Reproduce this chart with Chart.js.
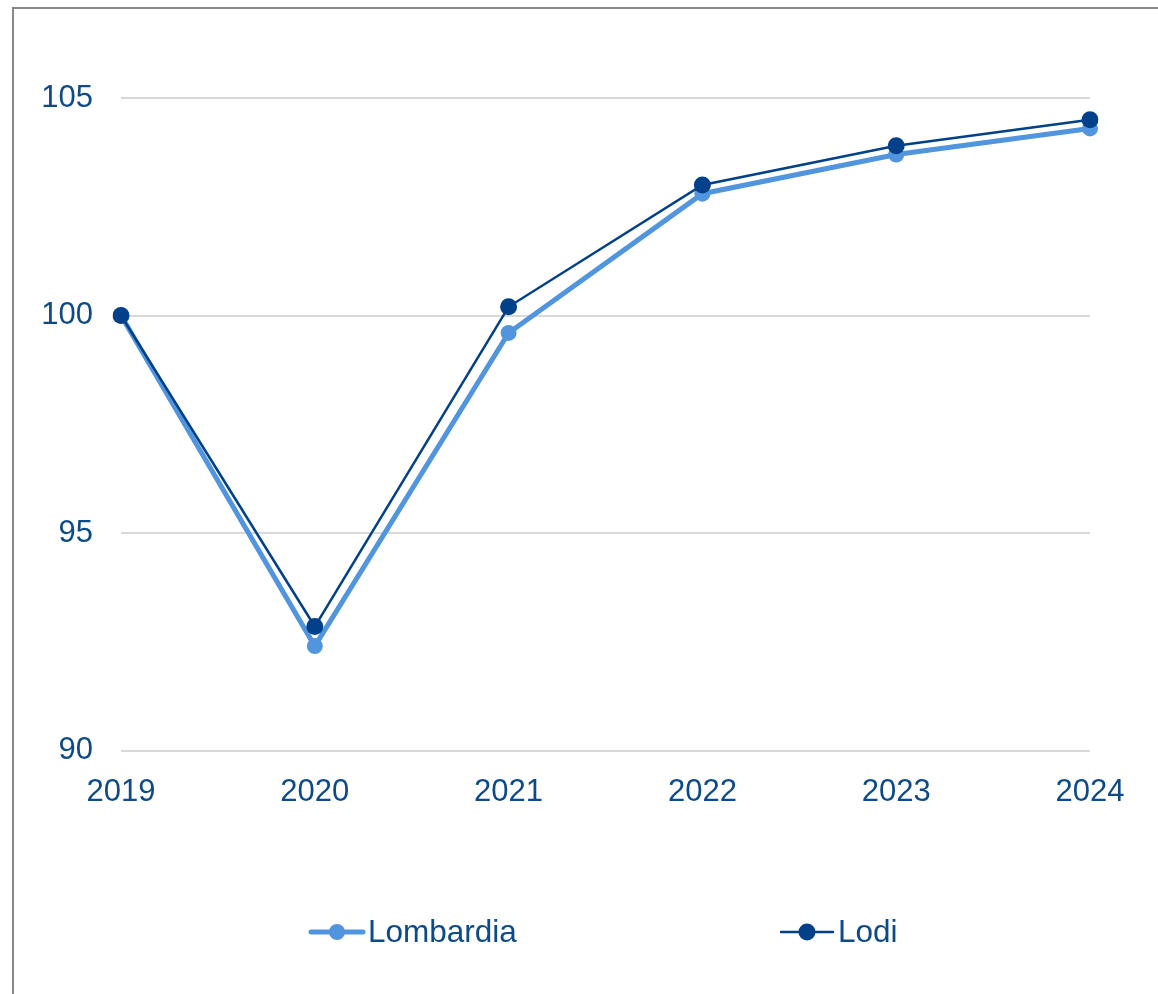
<!DOCTYPE html>
<html><head><meta charset="utf-8">
<script src="https://cdn.jsdelivr.net/npm/chart.js@4.4.1/dist/chart.umd.min.js"></script>
<style>
html,body{margin:0;padding:0;background:#fff;overflow:hidden;width:1158px;height:994px;}
#frame{position:absolute;left:12px;top:7px;width:1300px;height:1100px;border:2px solid #888888;box-sizing:border-box;}
#wrap{position:absolute;left:0;top:0;width:1158px;height:994px;}
</style></head><body>
<div id="frame"></div>
<div id="wrap"><canvas id="c" width="1158" height="994"></canvas></div>
<script>
const categories = ['2019', '2020', '2021', '2022', '2023', '2024'];
const lombardia = [100, 92.4, 99.6, 102.8, 103.7, 104.3];
const lodi = [100, 92.85, 100.2, 103.0, 103.9, 104.5];
const yMin = 90, yMax = 105, yStep = 5;

const TEXT = '#0C4A8A';
const FONT = '"Liberation Sans", Arial, sans-serif';
const LEGEND_ITEMS_X = [309, 779];
const LEGEND_Y = 932;

const legendPlugin = {
  id: 'bottomLegend',
  afterDraw(chart) {
    const ctx = chart.ctx;
    chart.data.datasets.forEach((ds, i) => {
      const x = LEGEND_ITEMS_X[i];
      const y = LEGEND_Y;
      ctx.save();
      ctx.strokeStyle = ds.borderColor;
      ctx.lineWidth = ds.borderWidth;
      ctx.lineCap = 'round';
      ctx.beginPath();
      ctx.moveTo(x + 2, y);
      ctx.lineTo(x + 54, y);
      ctx.stroke();
      ctx.fillStyle = ds.borderColor;
      ctx.beginPath();
      ctx.arc(x + 28, y, ds.pointRadius, 0, Math.PI * 2);
      ctx.fill();
      ctx.font = '31.5px ' + FONT;
      ctx.fillStyle = TEXT;
      ctx.textBaseline = 'middle';
      ctx.textAlign = 'left';
      ctx.fillText(ds.label, x + 59, y + 1);
      ctx.restore();
    });
  }
};

new Chart(document.getElementById('c'), {
  type: 'line',
  data: {
    labels: categories,
    datasets: [
      {
        label: 'Lombardia',
        data: lombardia,
        borderColor: '#5095DD',
        backgroundColor: '#5095DD',
        borderWidth: 5,
        pointRadius: 8,
        pointHoverRadius: 8,
        pointBackgroundColor: '#5095DD',
        pointBorderWidth: 0,
        tension: 0,
        order: 2
      },
      {
        label: 'Lodi',
        data: lodi,
        borderColor: '#024189',
        backgroundColor: '#024189',
        borderWidth: 2.5,
        pointRadius: 8.5,
        pointHoverRadius: 8.5,
        pointBackgroundColor: '#024189',
        pointBorderWidth: 0,
        tension: 0,
        order: 1
      }
    ]
  },
  options: {
    responsive: false,
    devicePixelRatio: 1,
    animation: false,
    layout: { padding: { left: 0, top: 98, right: 68, bottom: 183.5 } },
    plugins: { legend: { display: false }, tooltip: { enabled: false } },
    scales: {
      x: {
        type: 'category',
        offset: false,
        grid: { display: false },
        border: { display: false },
        ticks: { color: TEXT, font: { family: FONT, size: 31 }, padding: 15, maxRotation: 0, autoSkip: false },
        afterFit: s => { s.height = 60; }
      },
      y: {
        min: yMin,
        max: yMax,
        grid: { color: '#D9D9D9', lineWidth: 2, drawTicks: false },
        border: { display: false },
        ticks: { stepSize: yStep, color: TEXT, font: { family: FONT, size: 31 }, padding: 28 },
        afterFit: s => { s.width = 121; }
      }
    }
  },
  plugins: [legendPlugin]
});
</script>
</body></html>
